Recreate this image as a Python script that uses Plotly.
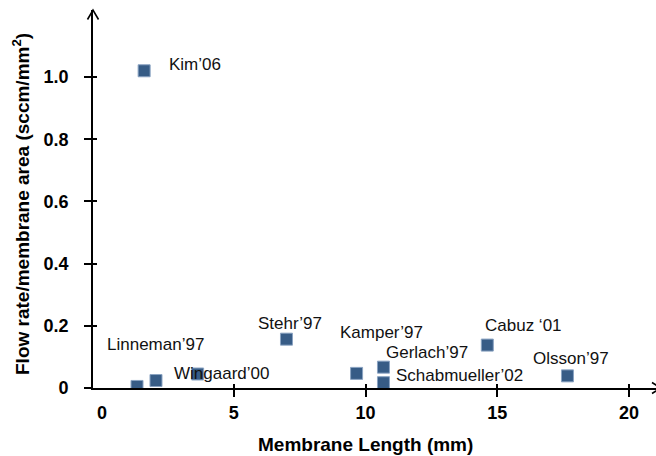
import plotly.graph_objects as go

# Micropump comparison: membrane length vs. flow rate per membrane area
length_mm = [1.6, 1.33, 2.05, 3.63, 7.0, 9.66, 10.68, 10.68, 14.62, 17.66]
flow_per_area = [1.02, 0.005, 0.024, 0.045, 0.157, 0.047, 0.067, 0.017, 0.138, 0.039]
pump_labels = ["Kim’06", "", "Linneman’97", "Wingaard’00", "Stehr’97",
               "Kamper’97", "Gerlach’97", "Schabmueller’02", "Cabuz ‘01", "Olsson’97"]

x_ticks = [0, 5, 10, 15, 20]
x_tick_text = ["0", "5", "10", "15", "20"]
y_ticks = [0, 0.2, 0.4, 0.6, 0.8, 1.0]
y_tick_text = ["0", "0.2", "0.4", "0.6", "0.8", "1.0"]

# label placement relative to each marker (pixels: right, up)
label_offsets = [(25, 6), (0, 0), (-49, 36), (-24, 1), (-28, 16),
                 (-17, 41), (3, 15), (13, 7), (-2, 20), (-34, 17)]

W, H = 656, 456
ML, MR, MT, MB = 93, 0, 10, 68
PW, PH = W - ML - MR, H - MT - MB
X_RANGE = [-0.34, 21.02]
Y_RANGE = [0, 1.2154]

FONT = "Liberation Sans, Arial, Helvetica, sans-serif"

fig = go.Figure()
fig.add_trace(go.Scatter(
    x=length_mm, y=flow_per_area, mode="markers",
    marker=dict(symbol="square", size=12, color="#375c86",
                line=dict(color="#8aa3c2", width=1)),
    showlegend=False, hoverinfo="x+y",
))
# empty traces so the tick-only overlay axes are drawn
fig.add_trace(go.Scatter(x=[None], y=[None], xaxis="x2", yaxis="y2",
                         showlegend=False, hoverinfo="skip"))
fig.add_trace(go.Scatter(x=[None], y=[None], xaxis="x3", yaxis="y",
                         showlegend=False, hoverinfo="skip"))

for xv, yv, txt, (dx, dy) in zip(length_mm, flow_per_area, pump_labels, label_offsets):
    if not txt:
        continue
    fig.add_annotation(x=xv, y=yv, xref="x", yref="y", text=txt, showarrow=False,
                       xanchor="left", yanchor="middle", xshift=dx, yshift=dy,
                       borderpad=0, borderwidth=0,
                       font=dict(family=FONT, size=17, color="#111111"))

tick_font = dict(family=FONT, size=18, color="#000000", weight="bold")
common = dict(showgrid=False, zeroline=False)

fig.update_layout(
    width=W, height=H,
    margin=dict(l=ML, r=MR, t=MT, b=MB, pad=0),
    paper_bgcolor="white", plot_bgcolor="white",
    xaxis=dict(range=X_RANGE, tickvals=x_ticks, ticktext=x_tick_text, ticks="",
               showline=True, linecolor="black", linewidth=1.6,
               tickfont=tick_font, ticklabelstandoff=8, **common),
    xaxis2=dict(range=X_RANGE, overlaying="x", anchor="y", side="bottom",
                tickvals=x_ticks[1:], ticks="outside", ticklen=8, tickwidth=1.6,
                tickcolor="black", showticklabels=False, showline=False, **common),
    xaxis3=dict(range=X_RANGE, overlaying="x", anchor="y", side="bottom",
                tickvals=x_ticks[1:], ticks="inside", ticklen=4, tickwidth=1.6,
                tickcolor="black", showticklabels=False, showline=False, **common),
    yaxis=dict(range=Y_RANGE, tickvals=y_ticks, ticktext=y_tick_text,
               ticks="outside", ticklen=7, tickwidth=1.6, tickcolor="black",
               showline=True, linecolor="black", linewidth=1.6,
               tickfont=tick_font, ticklabelstandoff=12, **common),
    yaxis2=dict(range=Y_RANGE, overlaying="y", anchor="x", side="left",
                tickvals=y_ticks[1:], ticks="inside", ticklen=4, tickwidth=1.6,
                tickcolor="black", showticklabels=False, showline=False, **common),
)


def px_to_paper(px, py):
    return (px - ML) / PW, (H - MB - py) / PH


# open arrowheads on the axis ends
def chevron(tip, wing1, wing2):
    pts = [px_to_paper(*p) for p in (wing1, tip, wing2)]
    path = "M {} {} L {} {} L {} {}".format(*[c for p in pts for c in p])
    fig.add_shape(type="path", path=path, xref="paper", yref="paper",
                  line=dict(color="black", width=1.6))


chevron((93, 10), (87.5, 19.5), (98.5, 19.5))
chevron((661, 388), (652, 382.5), (652, 393.5))

title_font = dict(family=FONT, size=19, color="#000000", weight="bold")
tx, ty = px_to_paper(365, 445)
fig.add_annotation(x=tx, y=ty, xref="paper", yref="paper", showarrow=False,
                   text="Membrane Length (mm)", font=title_font,
                   xanchor="center", yanchor="middle")
yx, yy = px_to_paper(21, 204)
fig.add_annotation(x=yx, y=yy, xref="paper", yref="paper", showarrow=False,
                   text="Flow rate/membrane area (sccm/mm<sup>2</sup>)", font=title_font,
                   textangle=-90, xanchor="center", yanchor="middle")

fig.write_html("out.html")
